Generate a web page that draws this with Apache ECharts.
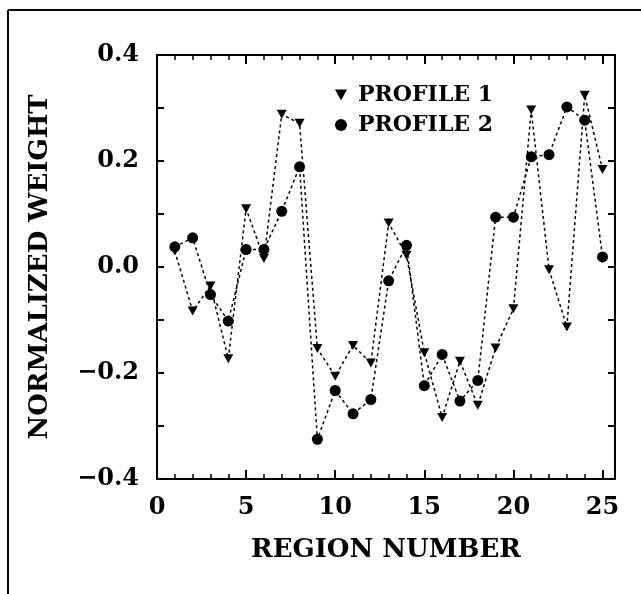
<!DOCTYPE html>
<html>
<head>
<meta charset="utf-8">
<script src="https://cdn.jsdelivr.net/npm/echarts@6/dist/echarts.min.js"></script>
<style>
  html, body { margin: 0; padding: 0; background: #fff; }
  #main { width: 641px; height: 594px; }
</style>
</head>
<body>
<div id="main"></div>
<script>
// region numbers 1..25
var regions = [1,2,3,4,5,6,7,8,9,10,11,12,13,14,15,16,17,18,19,20,21,22,23,24,25];
var profile1 = [0.030,-0.083,-0.036,-0.173,0.110,0.016,0.288,0.271,-0.154,-0.206,-0.148,-0.181,0.083,0.022,-0.162,-0.284,-0.178,-0.261,-0.153,-0.079,0.296,-0.005,-0.113,0.324,0.184];
var profile2 = [0.038,0.055,-0.052,-0.102,0.033,0.033,0.105,0.189,-0.325,-0.233,-0.277,-0.250,-0.026,0.041,-0.224,-0.165,-0.253,-0.214,0.094,0.094,0.208,0.212,0.302,0.277,0.019];
var xTicks = [0,5,10,15,20,25];
var yTicks = [-0.4,-0.2,0.0,0.2,0.4];

var FONT = "DejaVu Serif";
var triDown = "path://M0,0L10,0L5,9Z";

function pairs(vals) {
    return regions.map(function (r, i) { return [r, vals[i]]; });
}

var myChart = echarts.init(document.getElementById('main'));
var textBase = {fontFamily: FONT, fontWeight: 'bold', color: '#000'};

// each axis gets its own copy
function axLine() {
    return {show: true, onZero: false, lineStyle: {color: '#000', width: 2}};
}
function tick(len) {
    return {show: true, inside: true, length: len, lineStyle: {color: '#000', width: 2}};
}
function minor() {
    return {show: true, splitNumber: 5, length: 5, lineStyle: {color: '#000', width: 1.5}};
}

option = {
    backgroundColor: '#fff',
    animation: false,
    grid: {left: 157, right: 26, top: 55, bottom: 115},
    legend: {
        orient: 'vertical',
        left: 330, top: 79,
        itemGap: 8,
        itemWidth: 12, itemHeight: 12,
        textStyle: {fontFamily: FONT, fontWeight: 'bold', fontSize: 22, color: '#000', padding: [0,0,0,6]},
        data: [
            {name: 'PROFILE 1', icon: triDown},
            {name: 'PROFILE 2', icon: 'circle'}
        ]
    },
    xAxis: [{
        type: 'value', min: 0, max: 25.7, interval: 5,
        name: 'REGION NUMBER', nameLocation: 'middle', nameGap: 58,
        nameTextStyle: Object.assign({fontSize: 26}, textBase),
        axisLine: axLine(),
        axisTick: tick(9),
        minorTick: minor(),
        splitLine: {show: false},
        axisLabel: Object.assign({fontSize: 24, margin: 17, formatter: function (v) {
            return xTicks.indexOf(v) >= 0 ? String(v) : '';
        }}, textBase)
    }, {
        type: 'value', min: 0, max: 25.7, interval: 5, position: 'top',
        axisLine: axLine(),
        axisTick: tick(9),
        minorTick: minor(),
        splitLine: {show: false},
        axisLabel: {show: false}
    }],
    yAxis: [{
        type: 'value', min: -0.4, max: 0.4, interval: 0.1,
        name: 'NORMALIZED WEIGHT', nameLocation: 'middle', nameGap: 104, nameRotate: 90,
        nameTextStyle: Object.assign({fontSize: 26}, textBase),
        axisLine: axLine(),
        axisTick: tick(7),
        splitLine: {show: false},
        axisLabel: Object.assign({fontSize: 24, margin: 18, formatter: function (v) {
            var r = Math.round(v * 10) / 10;
            var ok = yTicks.some(function (t) { return Math.abs(t - r) < 1e-9; });
            if (!ok) return '';
            return (r < 0 ? '\u2212' : '') + Math.abs(r).toFixed(1);
        }}, textBase)
    }, {
        type: 'value', min: -0.4, max: 0.4, interval: 0.1, position: 'right',
        axisLine: axLine(),
        axisTick: tick(7),
        splitLine: {show: false},
        axisLabel: {show: false}
    }],
    graphic: [
        {type: 'line', shape: {x1: 8, y1: 10, x2: 641, y2: 10}, style: {stroke: '#000', lineWidth: 2}},
        {type: 'line', shape: {x1: 8, y1: 10, x2: 8, y2: 594}, style: {stroke: '#000', lineWidth: 2}}
    ],
    series: [
        {
            name: 'PROFILE 1', type: 'line',
            data: pairs(profile1),
            symbol: triDown, symbolSize: [10, 9],
            itemStyle: {color: '#000'},
            lineStyle: {color: '#000', width: 1.5, type: [3, 3]},
            z: 3
        },
        {
            name: 'PROFILE 2', type: 'line',
            data: pairs(profile2),
            symbol: 'circle', symbolSize: 11,
            itemStyle: {color: '#000'},
            lineStyle: {color: '#000', width: 1.5, type: [3, 3]},
            z: 4
        }
    ]
};

myChart.setOption(option);
</script>
</body>
</html>
